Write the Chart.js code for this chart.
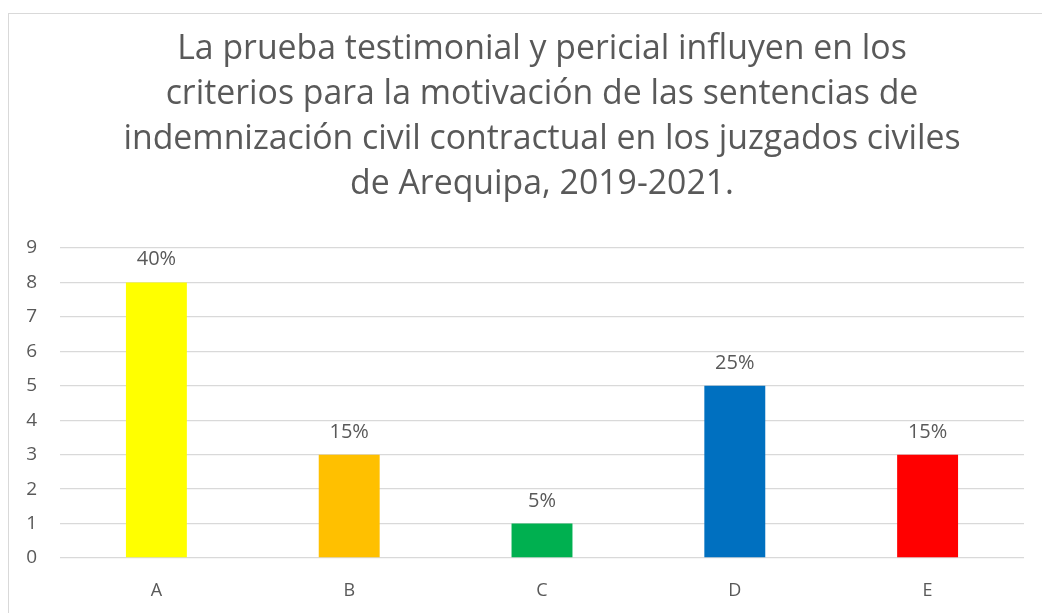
<!DOCTYPE html>
<html>
<head>
<meta charset="utf-8">
<script src="https://cdn.jsdelivr.net/npm/chart.js@4"></script>
<style>
  html, body { margin: 0; padding: 0; background: #fff; }
  #wrap { position: relative; width: 1042px; height: 613px; }
  #frame { position: absolute; left: 8px; top: 13px; right: -2px; bottom: -2px; border-top: 1px solid #d9d9d9; border-left: 1px solid #d9d9d9; }
  canvas { position: absolute; left: 0; top: 0; }
</style>
</head>
<body>
<div id="wrap">
  <div id="frame"></div>
  <canvas id="chart" width="1042" height="613"></canvas>
</div>
<script>
const categories = ['A', 'B', 'C', 'D', 'E'];
const counts = [8, 3, 1, 5, 3];
const percentLabels = ['40%', '15%', '5%', '25%', '15%'];
const barColors = ['#ffff00', '#ffc000', '#00b050', '#0070c0', '#ff0000'];
const yTicks = [0, 1, 2, 3, 4, 5, 6, 7, 8, 9];
const titleLines = [
    'La prueba testimonial y pericial influyen en los',
    'criterios para la motivación de las sentencias de',
    'indemnización civil contractual en los juzgados civiles',
    'de Arequipa, 2019-2021.'
];

const textColor = '#595959';
const fontFamily = '"Open Sans", sans-serif';

// draws the percentage above each bar
const barLabels = {
    id: 'barLabels',
    afterDatasetsDraw(chart) {
        const ctx = chart.ctx;
        const meta = chart.getDatasetMeta(0);
        ctx.save();
        ctx.fillStyle = textColor;
        ctx.font = '20px ' + fontFamily;
        ctx.textAlign = 'center';
        ctx.textBaseline = 'alphabetic';
        meta.data.forEach((bar, i) => {
            ctx.fillText(percentLabels[i], bar.x, bar.y - 17);
        });
        ctx.restore();
    }
};

new Chart(document.getElementById('chart'), {
    type: 'bar',
    data: {
        labels: categories,
        datasets: [{
            data: counts,
            backgroundColor: barColors,
            borderWidth: 0,
            barPercentage: 0.316,
            categoryPercentage: 1
        }]
    },
    options: {
        responsive: false,
        animation: false,
        layout: {
            padding: { left: 8, right: 18, top: 27, bottom: 0 }
        },
        plugins: {
            legend: { display: false },
            tooltip: { enabled: false },
            title: {
                display: true,
                fullSize: false,
                text: titleLines,
                color: textColor,
                font: { family: fontFamily, size: 33.8, weight: 'normal', lineHeight: 45 / 33.8 },
                padding: { top: 0, bottom: 41 }
            }
        },
        scales: {
            x: {
                afterFit(scale) { scale.height = 55; },
                grid: { display: false, drawTicks: false },
                border: { display: false },
                ticks: {
                    color: textColor,
                    font: { family: fontFamily, size: 18 },
                    padding: 22
                }
            },
            y: {
                min: 0,
                max: 9,
                afterBuildTicks(scale) {
                    scale.ticks = yTicks.map(v => ({ value: v }));
                },
                afterFit(scale) { scale.width = 52; },
                grid: { color: '#d9d9d9', lineWidth: 1.3, drawTicks: false },
                border: { display: false },
                ticks: {
                    color: textColor,
                    font: { family: fontFamily, size: 19 },
                    padding: 23
                }
            }
        }
    },
    plugins: [barLabels]
});
</script>
</body>
</html>
